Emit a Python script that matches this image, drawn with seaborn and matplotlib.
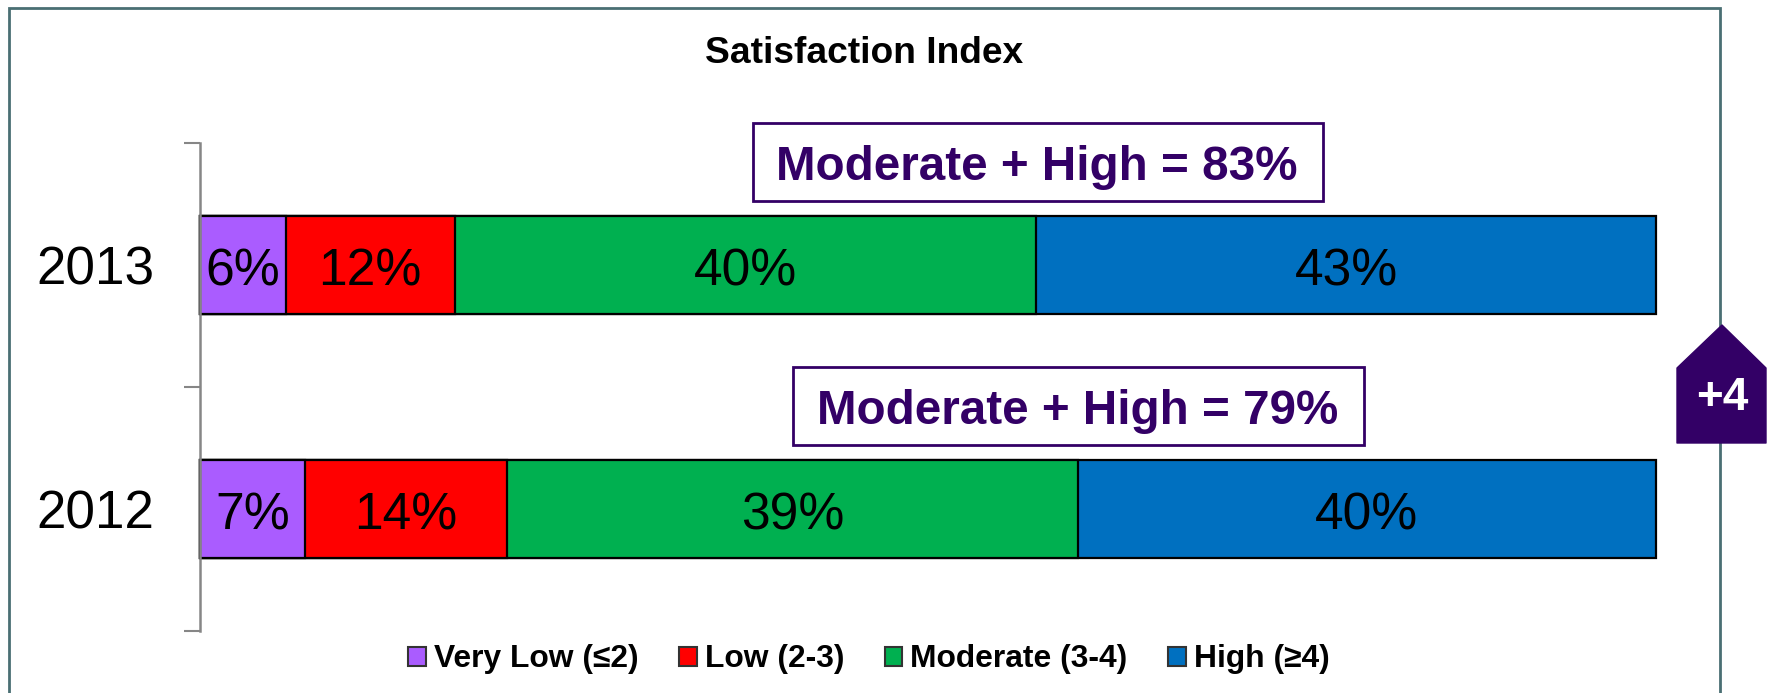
import matplotlib
matplotlib.use("Agg")
import matplotlib.pyplot as plt
from matplotlib.patches import Rectangle, Polygon
import numpy as np
import seaborn as sns

years = ["2013", "2012"]
series_names = ["Very Low (≤2)", "Low (2-3)", "Moderate (3-4)", "High (≥4)"]
very_low = [5.9, 7.2]
low = [11.6, 13.9]
moderate = [40.0, 39.2]
high = [42.6, 39.7]
combined = [83, 79]
delta = "+4"
colors = ["#AA5CFF", "#FF0000", "#00B050", "#0070C0"]
title = "Satisfaction Index"

W, H = 1771, 693
sns.set_theme(style="white")
plt.rcParams["font.family"] = ["Liberation Sans", "DejaVu Sans"]

fig = plt.figure(figsize=(W / 100, H / 100), dpi=100, facecolor="white")
ax = fig.add_axes([200 / W, 1 - 631 / H, 1456 / W, 488 / H])
ax.patch.set_alpha(0)

vals = np.array([very_low, low, moderate, high], dtype=float)
shares = vals / vals.sum(axis=0)
cum = shares.cumsum(axis=0)

for i in range(3, -1, -1):
    sns.barplot(x=cum[i], y=years, order=years, color=colors[i], saturation=1,
                width=0.4, edgecolor="black", linewidth=1.6, label=series_names[i],
                ax=ax, orient="h", zorder=2)
for p in ax.patches:
    p.set_clip_on(False)

for i in range(4):
    lefts = cum[i] - shares[i]
    for j in range(2):
        ax.text(lefts[j] + shares[i][j] / 2, j + 0.03, f"{round(vals[i][j])}%", ha="center",
                va="center", fontsize=37.2, color="black", zorder=3)

ax.set_xlim(0, 1)
ax.set_ylim(1.5, -0.5)
ax.set_xlabel("")
ax.set_ylabel("")
ax.set_xticks([])
ax.set_yticks([-0.5, 0.5, 1.5])
ax.set_yticklabels([])
ax.set_yticks([0, 1], minor=True)
ax.set_yticklabels(years, minor=True, fontsize=38.2, color="black")
ax.tick_params(axis="y", which="major", left=True, length=11.4, width=1.5, color="#868686")
ax.tick_params(axis="y", which="minor", left=False, length=0, pad=33)
for s in ["top", "right", "bottom"]:
    ax.spines[s].set_visible(False)
ax.spines["left"].set_color("#868686")
ax.spines["left"].set_linewidth(1.8)
ax.spines["left"].set_zorder(4)

fx = lambda x: x / W
fy = lambda y: 1 - y / H

fig.text(fx(864), fy(53.5), title, ha="center", va="center", fontsize=26.7,
         fontweight="bold", color="black")

# outer frame, running off the bottom edge
fig.add_artist(Rectangle((fx(9), fy(720)), fx(1711), fy(8) - fy(720), fill=False,
                         edgecolor="#4A6F73", linewidth=2, transform=fig.transFigure, zorder=0))

# call-out boxes
for k, (x0, x1, y0, y1) in enumerate([(753, 1323, 123, 201), (793, 1364, 367, 445)]):
    fig.add_artist(Rectangle((fx(x0), fy(y1)), fx(x1 - x0), fy(y0) - fy(y1), facecolor="white",
                             edgecolor="#330066", linewidth=2, transform=fig.transFigure, zorder=5))
    fig.text(fx((x0 + x1) / 2 - 1), fy((y0 + y1) / 2 + 5), f"Moderate + High = {combined[k]}%",
             ha="center", va="center", fontsize=34.3, fontweight="bold", color="#330066", zorder=6)

# delta badge
fig.add_artist(Polygon([(fx(1677), fy(443)), (fx(1766), fy(443)), (fx(1766), fy(368)),
                        (fx(1722), fy(325)), (fx(1677), fy(368))], closed=True,
                       facecolor="#330066", edgecolor="#330066", linewidth=1,
                       joinstyle="round", transform=fig.transFigure, zorder=5))
fig.text(fx(1722), fy(398), delta, ha="center", va="center", fontsize=33, fontweight="bold",
         color="white", zorder=6)

handles, labels = ax.get_legend_handles_labels()
order = [labels.index(n) for n in series_names]
leg = ax.legend([handles[i] for i in order], [labels[i] for i in order], ncol=4,
                loc="center", bbox_to_anchor=(fx(869), fy(659.5)), bbox_transform=fig.transFigure,
                frameon=False, prop={"size": 22.9, "weight": "bold"}, handlelength=0.55,
                handleheight=0.55, handletextpad=0.25, columnspacing=1.28, borderpad=0,
                borderaxespad=0, labelcolor="black")
for h in leg.legend_handles:
    h.set_edgecolor("#333333")
    h.set_linewidth(1.5)

fig.savefig("out.png", dpi=100, facecolor="white")
